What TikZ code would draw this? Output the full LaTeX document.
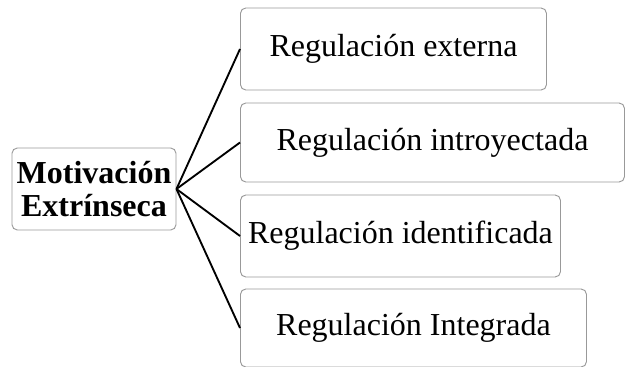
\documentclass[tikz,border=0pt]{standalone}
\usepackage{fontspec}
\setmainfont{Liberation Serif}
\usepackage{tikz}
\usetikzlibrary{calc, positioning}

\tikzset{
    caja/.style={draw=gray!80, line width=0.7pt, rounded corners=4pt, align=center,
        font=\fontsize{24}{25}\selectfont, inner sep=0pt, minimum height=61.5pt},
    rama/.style={line width=1.4pt, black},
}

\begin{document}
\begin{tikzpicture}[x=0.75pt, y=-0.75pt]
        \useasboundingbox (0,0) rectangle (625,367);
        \node[caja, font=\fontsize{24}{25}\selectfont\bfseries, minimum width=123pt] (mot) at (94,189) {Motivación\\Extrínseca};
        \node[caja, anchor=west, minimum width=229.5pt] (ext) at (240,49) {Regulación externa};
        \node[caja, anchor=west, minimum width=288pt, minimum height=59.25pt] (intro) at (240,142.5) {Regulación introyectada};
        \node[caja, anchor=west, minimum width=240pt] (iden) at (240,236) {Regulación identificada};
        \node[caja, anchor=west, minimum width=259.5pt, minimum height=58.5pt] (integ) at (240,328) {Regulación Integrada};
        \foreach \n in {ext, intro, iden, integ} {
            \draw[rama] (mot.east) -- (\n.west);
        }
    \end{tikzpicture}
\end{document}
